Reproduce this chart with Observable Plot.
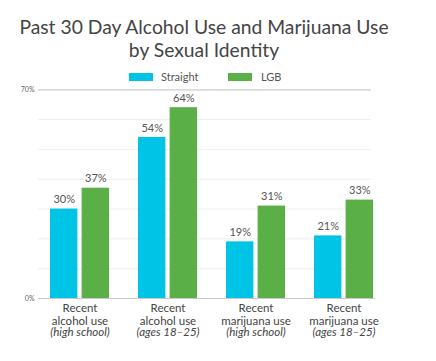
<!DOCTYPE html>
<html><head><meta charset="utf-8">
<script src="https://cdn.jsdelivr.net/npm/d3@7"></script>
<script src="https://cdn.jsdelivr.net/npm/@observablehq/plot@0.6"></script>
<style>
body{margin:0;background:#fff;font-family:Lato,sans-serif;width:436px;height:361px;position:relative;overflow:hidden;}
#title{position:absolute;left:0;top:15px;width:408px;text-align:center;font-size:19.3px;line-height:23px;color:#444;}
#legend{position:absolute;left:0;top:0;z-index:2;}
.sw{position:absolute;top:72.5px;width:24px;height:8px;}
.lt{position:absolute;top:70px;font-size:11px;line-height:14px;color:#555;}
#chart{position:absolute;top:80px;left:0;z-index:1;}
</style></head>
<body>
<div id="title">Past 30 Day Alcohol Use and Marijuana Use<br>by Sexual Identity</div>
<div id="chart"></div>
<div id="legend"></div>
<script>
const categories = ["alcohol-hs", "alcohol-ya", "marijuana-hs", "marijuana-ya"];
const labelLine1 = ["Recent", "Recent", "Recent", "Recent"];
const labelLine2 = ["alcohol use", "alcohol use", "marijuana use", "marijuana use"];
const labelLine3 = ["(high school)", "(ages 18–25)", "(high school)", "(ages 18–25)"];
const straight = [30, 54, 19, 21];
const lgb = [37, 64, 31, 33];
const seriesNames = ["Straight", "LGB"];
const seriesColors = ["#00C4E6", "#5AAF46"];
const yTickValues = [0, 70];
const gridValues = [10, 20, 30, 40, 50, 60];

const table = categories.map((c, i) => ({
  cat: c, l1: labelLine1[i], l2: labelLine2[i], l3: labelLine3[i],
  straight: straight[i], lgb: lgb[i]
}));

// legend
const legend = document.getElementById("legend");
const swX = [129, 228], txX = [161, 261];
seriesNames.forEach((n, i) => {
  const s = document.createElement("div");
  s.className = "sw"; s.style.left = swX[i] + "px"; s.style.background = seriesColors[i];
  legend.appendChild(s);
  const t = document.createElement("div");
  t.className = "lt"; t.style.left = txX[i] + "px"; t.textContent = n;
  legend.appendChild(t);
});

const bw = (374.3 - 47.7) / (4 - 0.33) * 0.67;
const half = bw / 2;
const barW = 28;
const off = half - barW / 2;

const chart = Plot.plot({
  width: 436, height: 281,
  marginLeft: 38, marginRight: 65, marginTop: 9.3, marginBottom: 63,
  style: {fontFamily: "Lato, sans-serif", background: "transparent"},
  x: {domain: categories, range: [47.7, 374.3], paddingInner: 0.33, paddingOuter: 0, axis: null},
  y: {domain: [0, 70], axis: null},
  marks: [
    Plot.ruleY(gridValues, {stroke: "#eeeeee", strokeWidth: 1}),
    Plot.ruleY([70], {stroke: "#cccccc", strokeWidth: 1.2}),
    Plot.barY(table, {x: "cat", y: "straight", fill: seriesColors[0], insetRight: bw - barW}),
    Plot.barY(table, {x: "cat", y: "lgb", fill: seriesColors[1], insetLeft: bw - barW}),
    Plot.ruleY([0], {stroke: "#c8c8c8", strokeWidth: 1.2, insetRight: -4}),
    Plot.text(table, {x: "cat", y: "straight", text: d => d.straight + "%", dx: -off, dy: -6, lineAnchor: "bottom", fontSize: 11, fill: "#555"}),
    Plot.text(table, {x: "cat", y: "lgb", text: d => d.lgb + "%", dx: off, dy: -6, lineAnchor: "bottom", fontSize: 11, fill: "#555"}),
    Plot.text(yTickValues, {y: d => d, text: d => d + "%", frameAnchor: "left", textAnchor: "end", dx: -4, fontSize: 7, fill: "#666"}),
    Plot.text(table, {x: "cat", text: d => d.l1 + "\n" + d.l2, frameAnchor: "bottom", lineAnchor: "top", dy: 5, fontSize: 11.5, lineHeight: 1.07, fill: "#444"}),
    Plot.text(table, {x: "cat", text: "l3", frameAnchor: "bottom", lineAnchor: "top", dy: 29.5, fontSize: 11.5, fontStyle: "italic", fill: "#444"})
  ]
});
document.getElementById("chart").appendChild(chart);
</script>
</body></html>
